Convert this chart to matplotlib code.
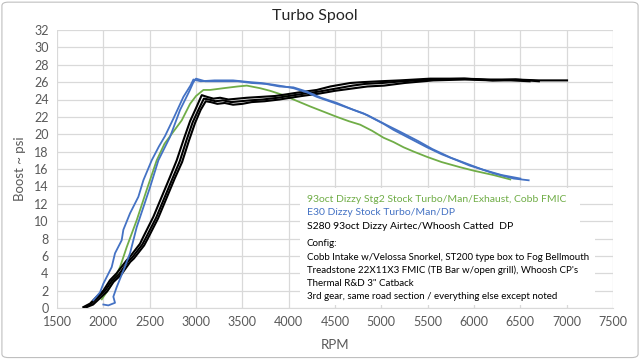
import matplotlib
matplotlib.use("Agg")
import matplotlib.pyplot as plt
from matplotlib.patches import Rectangle, FancyBboxPatch

plt.rcParams['font.family'] = ['Lato', 'DejaVu Sans']

# ---------------- data ----------------
green_rpm = [1983, 2072, 2180, 2252, 2360, 2468, 2576, 2660, 2756, 2846, 2936, 3000, 3080,
             3152, 3296, 3450, 3548, 3692, 3800, 3944, 4052, 4232, 4400, 4520, 4650, 4772,
             4900, 5024, 5132, 5240, 5350, 5492, 5650, 5852, 6000, 6212, 6392]
green_psi = [1.0, 2.4, 4.7, 7.0, 10.1, 13.6, 17.0, 18.9, 20.3, 21.6, 23.5, 24.4, 25.1,
             25.1, 25.3, 25.5, 25.6, 25.3, 25.0, 24.5, 24.0, 23.2, 22.5, 22.0, 21.5, 21.1,
             20.4, 19.6, 19.1, 18.5, 18.0, 17.4, 16.8, 16.2, 15.8, 15.3, 14.8]

blue1_rpm = [1892, 1964, 2000, 2090, 2126, 2198, 2216, 2288, 2378, 2432, 2522, 2600, 2666,
             2756, 2864, 2940, 2972, 3050, 3200, 3400, 3584, 3700, 3836, 3950, 4052, 4200,
             4304, 4520, 4650, 4808, 5024, 5132, 5312, 5492, 5650, 5816, 5952, 6104, 6212,
             6428, 6590]
blue1_psi = [0.9, 1.8, 2.8, 4.7, 6.3, 7.8, 9.0, 10.9, 12.8, 14.7, 17.0, 18.6, 19.8,
             21.8, 24.3, 25.6, 26.3, 26.1, 26.2, 26.2, 26.0, 25.9, 25.7, 25.5, 25.3, 24.8,
             24.3, 23.5, 23.0, 22.4, 21.2, 20.5, 19.5, 18.5, 17.7, 17.0, 16.4, 15.9, 15.5,
             14.9, 14.7]

blue2_rpm = [2000, 2054, 2126, 2108, 2144, 2216, 2288, 2360, 2432, 2504, 2594, 2720, 2828,
             2930, 2972, 3000, 3100, 3250, 3450, 3600, 3750, 3900, 4050, 4200, 4350, 4520,
             4700, 4850, 5050, 5200, 5400, 5550, 5750, 5900, 6100, 6300, 6500]
blue2_psi = [0.4, 0.3, 0.6, 1.3, 2.4, 4.3, 6.3, 9.3, 11.6, 13.9, 17.0, 19.7, 22.8,
             25.0, 26.0, 26.4, 26.1, 26.1, 26.1, 25.9, 25.8, 25.5, 25.4, 24.9, 24.2, 23.6,
             22.8, 22.2, 21.1, 20.3, 19.2, 18.3, 17.3, 16.7, 15.9, 15.3, 14.9]

blackA_rpm = [1784, 1856, 1929, 2000, 2072, 2144, 2252, 2288, 2396, 2432, 2540, 2630, 2720,
              2792, 2870, 2936, 3000, 3062, 3120, 3188, 3260, 3350, 3450, 3548, 3700, 3850,
              3980, 4100, 4304, 4450, 4664, 4800, 4988, 5200, 5528, 5888, 6176, 6450, 6700, 7004]
blackA_psi = [0.1, 0.5, 1.3, 2.0, 3.2, 4.0, 5.5, 5.9, 7.4, 8.2, 10.5, 12.8, 15.1,
              17.0, 19.5, 21.5, 23.0, 24.5, 24.3, 24.1, 24.2, 24.0, 24.1, 24.2, 24.3, 24.4,
              24.6, 24.8, 25.1, 25.5, 25.9, 26.0, 26.1, 26.2, 26.4, 26.4, 26.3, 26.3, 26.2, 26.2]

blackB_rpm = [1800, 1870, 1950, 2020, 2090, 2170, 2270, 2310, 2420, 2460, 2570, 2660, 2750,
              2825, 2900, 2965, 3030, 3085, 3140, 3210, 3290, 3380, 3480, 3580, 3720, 3880,
              4000, 4120, 4320, 4480, 4690, 4830, 5010, 5230, 5550, 5900, 6200, 6450, 6700]
blackB_psi = [0.1, 0.5, 1.3, 2.0, 3.1, 3.9, 5.4, 5.8, 7.3, 8.1, 10.4, 12.7, 15.0,
              16.9, 19.4, 21.4, 22.9, 24.1, 24.0, 23.8, 23.9, 23.7, 23.8, 23.9, 24.0, 24.2,
              24.4, 24.6, 24.9, 25.2, 25.6, 25.8, 25.9, 26.1, 26.3, 26.4, 26.2, 26.3, 26.1]

blackC_rpm = [1820, 1890, 1970, 2040, 2110, 2190, 2290, 2330, 2440, 2480, 2590, 2680, 2770,
              2850, 2925, 2990, 3050, 3105, 3160, 3230, 3310, 3400, 3500, 3600, 3740, 3900,
              4020, 4140, 4340, 4500, 4710, 4850, 5030, 5250, 5560, 5900, 6200, 6400, 6600]
blackC_psi = [0.1, 0.4, 1.2, 1.9, 3.0, 3.8, 5.3, 5.7, 7.2, 8.0, 10.3, 12.6, 14.9,
              16.8, 19.3, 21.3, 22.8, 23.8, 23.7, 23.5, 23.6, 23.4, 23.5, 23.7, 23.8, 24.0,
              24.2, 24.4, 24.7, 25.0, 25.3, 25.5, 25.6, 25.9, 26.2, 26.3, 26.2, 26.2, 26.1]

x_ticks = list(range(1500, 7501, 500))
y_ticks = list(range(0, 33, 2))

legend_lines = ["93oct Dizzy Stg2 Stock Turbo/Man/Exhaust, Cobb FMIC",
                "E30 Dizzy Stock Turbo/Man/DP",
                "S280 93oct Dizzy Airtec/Whoosh Catted  DP"]
config_lines = ["Config:",
                "Cobb Intake w/Velossa Snorkel, ST200 type box to Fog Bellmouth",
                "Treadstone 22X11X3 FMIC (TB Bar w/open grill), Whoosh CP's",
                "Thermal R&D 3\" Catback",
                "3rd gear, same road section / everything else except noted"]

GREEN = "#70AD47"
BLUE = "#4472C4"
BLACK = "#000000"
GRID = "#D9D9D9"
TXT = "#595959"

# ---------------- figure ----------------
fig = plt.figure(figsize=(6.4, 3.59), dpi=100)
ax = fig.add_axes([57/640, 1-308/359, 556/640, 278/359])

fig.patches.append(FancyBboxPatch((0.003, 0.004), 0.994, 0.99, boxstyle="round,pad=0,rounding_size=0.01",
                                  transform=fig.transFigure, facecolor="none",
                                  edgecolor="#BFBFBF", linewidth=0.8))

lw = 1.3
ax.plot(blackA_rpm, blackA_psi, color=BLACK, lw=1.5, zorder=3)
ax.plot(blackB_rpm, blackB_psi, color=BLACK, lw=1.5, zorder=3)
ax.plot(blackC_rpm, blackC_psi, color=BLACK, lw=1.5, zorder=3)
ax.plot(blue1_rpm, blue1_psi, color=BLUE, lw=lw, zorder=4)
ax.plot(blue2_rpm, blue2_psi, color=BLUE, lw=lw, zorder=4)
ax.plot(green_rpm, green_psi, color=GREEN, lw=lw, zorder=2)

ax.set_xlim(1500, 7500)
ax.set_ylim(0, 32)
ax.set_xticks(x_ticks)
ax.set_yticks(y_ticks)
ax.grid(True, color=GRID, linewidth=0.9)
ax.set_axisbelow(True)
for s in ["top", "right", "left"]:
    ax.spines[s].set_visible(False)
ax.spines["bottom"].set_color(GRID)
ax.tick_params(length=0, labelsize=9, colors=TXT, pad=6)
ax.set_xlabel("RPM", fontsize=9.5, color=TXT, labelpad=8)
ax.set_ylabel("Boost ~ psi", fontsize=9.5, color=TXT, labelpad=6)

fig.text(315/640, 1-16/359, "Turbo Spool", ha="center", va="center", fontsize=11.5, color="#262626")

# text boxes
ax.add_patch(Rectangle((0.437, 0.259), 0.504, 0.173, transform=ax.transAxes,
                       facecolor="white", edgecolor="none", zorder=5))
ax.add_patch(Rectangle((0.437, 0.011), 0.531, 0.250, transform=ax.transAxes,
                       facecolor="white", edgecolor="none", zorder=5))

legend_colors = [GREEN, BLUE, BLACK]
legend_y = [0.392, 0.343, 0.292]
for t, c, yy in zip(legend_lines, legend_colors, legend_y):
    ax.text(0.449, yy, t, transform=ax.transAxes, color=c, fontsize=7.5,
            va="center", ha="left", zorder=6)
config_y = [0.233, 0.180, 0.135, 0.088, 0.040]
for t, yy in zip(config_lines, config_y):
    ax.text(0.449, yy, t, transform=ax.transAxes, color=BLACK, fontsize=7.0,
            va="center", ha="left", zorder=6)

fig.savefig("out.png", dpi=100)
